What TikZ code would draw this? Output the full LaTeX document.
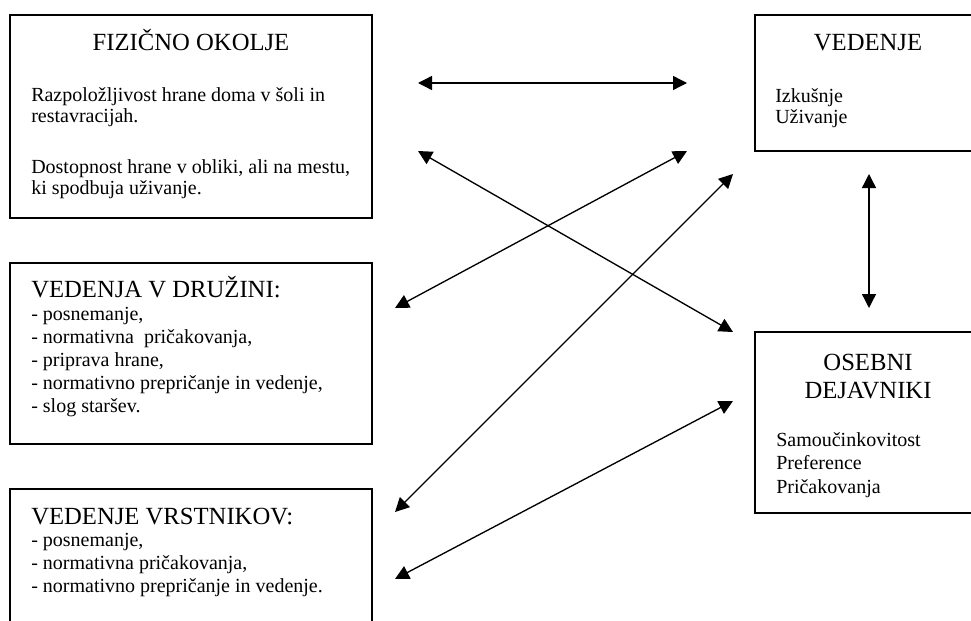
\documentclass[tikz,border=0pt]{standalone}
\usepackage{fontspec}
\setmainfont{Liberation Serif}
\usetikzlibrary{arrows.meta,fit}
\begin{document}
\begin{tikzpicture}[x=0.75pt,y=-0.75pt,
  box/.style={draw,line width=1.5pt,inner sep=0pt},
  hd/.style={inner sep=0pt,anchor=base,font=\fontsize{18.5}{22}\selectfont},
  hdl/.style={inner sep=0pt,anchor=base west,font=\fontsize{18.5}{22}\selectfont},
  tx/.style={inner sep=0pt,anchor=base west,font=\fontsize{15}{18}\selectfont},
  link/.style={{Triangle[length=10.5pt,width=10.5pt]}-{Triangle[length=10.5pt,width=10.5pt]},line width=1pt}]
\clip (0,0) rectangle (971,621);
\fill[white] (0,0) rectangle (971,621);
% boxes
\node[box,fit={(10,15) (372,218)}] (b1) {};
\node[box,fit={(10,263) (372,444)}] (b2) {};
\node[box,fit={(10,489) (372,660)}] (b3) {};
\node[box,fit={(755,15) (981,151)}] (b4) {};
\node[box,fit={(755,332) (981,513)}] (b5) {};
% box 1
\node[hd] (t1h) at (191,50) {FIZIČNO OKOLJE};
\node[tx] (t1a) at (31,101) {Razpoložljivost hrane doma v šoli in};
\node[tx] (t1b) at (31,122) {restavracijah.};
\node[tx] (t1c) at (31,173) {Dostopnost hrane v obliki, ali na mestu,};
\node[tx] (t1d) at (31,194) {ki spodbuja uživanje.};
% box 2
\node[hdl] (t2h) at (31,297) {VEDENJA V DRUŽINI:};
\node[tx] (t2a) at (31,320) {- posnemanje,};
\node[tx] (t2b) at (31,343) {- normativna\ \ pričakovanja,};
\node[tx] (t2c) at (31,366) {- priprava hrane,};
\node[tx] (t2d) at (31,389) {- normativno prepričanje in vedenje,};
\node[tx] (t2e) at (31,412) {- slog staršev.};
% box 3
\node[hdl] (t3h) at (31,524) {VEDENJE VRSTNIKOV:};
\node[tx] (t3a) at (31,546) {- posnemanje,};
\node[tx] (t3b) at (31,569) {- normativna pričakovanja,};
\node[tx] (t3c) at (31,592) {- normativno prepričanje in vedenje.};
% box 4
\node[hd] (t4h) at (868,50) {VEDENJE};
\node[tx] (t4a) at (775,102) {Izkušnje};
\node[tx] (t4b) at (775,123) {Uživanje};
% box 5
\node[hd] (t5h) at (868,370) {OSEBNI};
\node[hd] (t5i) at (868,398) {DEJAVNIKI};
\node[tx] (t5a) at (776,446) {Samoučinkovitost};
\node[tx] (t5b) at (776,469) {Preference};
\node[tx] (t5c) at (776,493) {Pričakovanja};
% arrow ends
\coordinate (a1s) at (418,83);  \coordinate (a1e) at (687,83);
\coordinate (a2s) at (418,151); \coordinate (a2e) at (733,332);
\coordinate (a3s) at (395,308); \coordinate (a3e) at (687,151);
\coordinate (a4s) at (395,512); \coordinate (a4e) at (733,174);
\coordinate (a5s) at (395,579); \coordinate (a5e) at (733,401);
\coordinate (a6s) at (869,174); \coordinate (a6e) at (869,308);
\draw[link] (a1s) -- (a1e);
\draw[link] (a2s) -- (a2e);
\draw[link] (a3s) -- (a3e);
\draw[link] (a4s) -- (a4e);
\draw[link] (a5s) -- (a5e);
\draw[link] (a6s) -- (a6e);
\end{tikzpicture}
\end{document}
